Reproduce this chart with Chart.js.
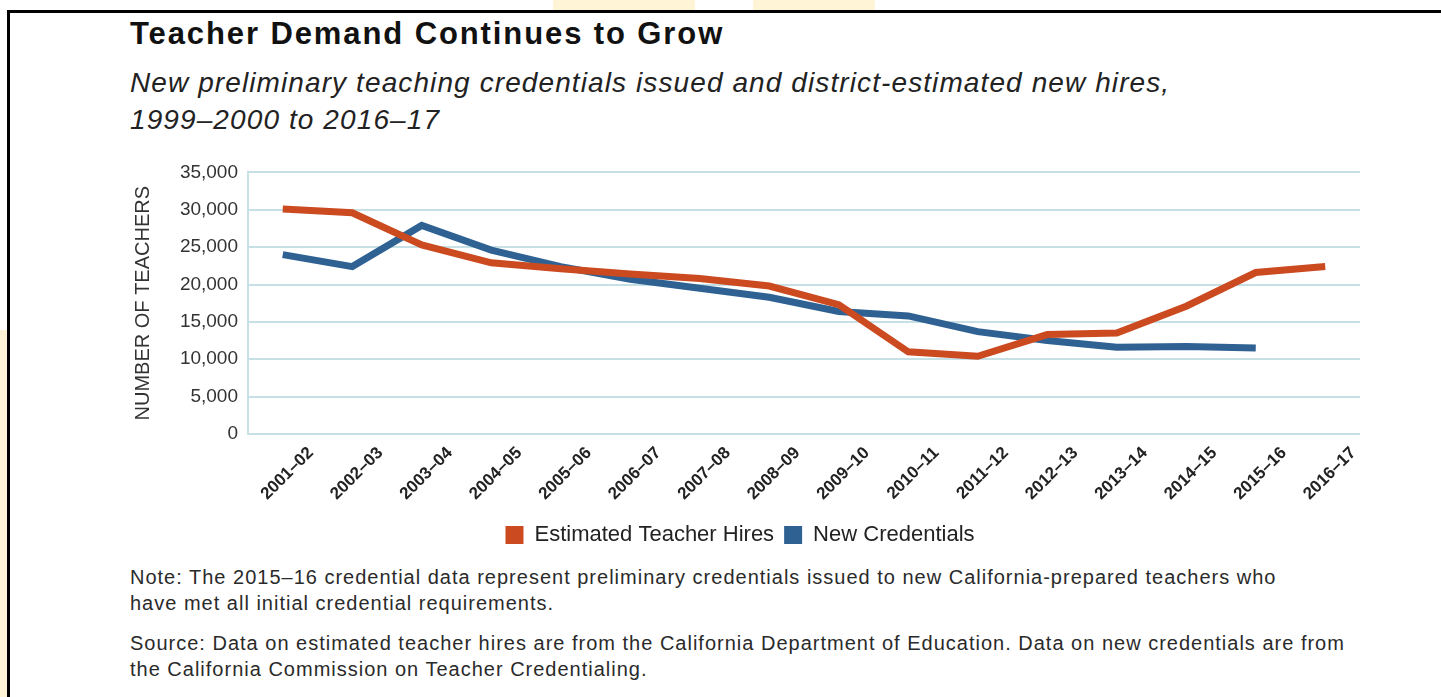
<!DOCTYPE html>
<html>
<head>
<meta charset="utf-8">
<script src="https://cdn.jsdelivr.net/npm/chart.js@4.4.0/dist/chart.umd.min.js"></script>
<style>
  html, body { margin: 0; padding: 0; background: #fff; }
  body { width: 1441px; height: 697px; position: relative; overflow: hidden; font-family: "Liberation Sans", Arial, sans-serif; }
  .frame { position: absolute; left: 7px; top: 10px; width: 1450px; height: 700px; border-left: 3px solid #000; border-top: 3px solid #000; box-sizing: border-box; }
  .tint { position: absolute; background: #fff5d6; }
  #title { position: absolute; left: 130px; top: 16px; font-size: 31px; letter-spacing: 1.9px; font-weight: bold; color: #111; }
  #subtitle { position: absolute; left: 130px; top: 64px; font-size: 28px; letter-spacing: 1.1px; font-style: italic; color: #222; line-height: 37px; }
  #chart-box { position: absolute; left: 120px; top: 151px; width: 1290px; height: 405px; }
  .note { position: absolute; left: 130px; font-size: 20px; letter-spacing: 1px; color: #2a2a2a; line-height: 26px; }
</style>
</head>
<body>
<div class="tint" style="left:553px;top:0;width:142px;height:10px"></div>
<div class="tint" style="left:753px;top:0;width:122px;height:10px"></div>
<div class="tint" style="left:0;top:330px;width:7px;height:367px"></div>
<div class="frame"></div>
<div id="title">Teacher Demand Continues to Grow</div>
<div id="subtitle">New preliminary teaching credentials issued and district-estimated new hires,<br>1999–2000 to 2016–17</div>
<div id="chart-box"><canvas id="chart"></canvas></div>
<div class="note" style="top:564px">Note: The 2015–16 credential data represent preliminary credentials issued to new California-prepared teachers who<br>have met all initial credential requirements.</div>
<div class="note" style="top:630px">Source: Data on estimated teacher hires are from the California Department of Education. Data on new credentials are from<br>the California Commission on Teacher Credentialing.</div>
<script>
// School years on the x axis
const years = ['2001–02', '2002–03', '2003–04', '2004–05', '2005–06', '2006–07', '2007–08', '2008–09',
               '2009–10', '2010–11', '2011–12', '2012–13', '2013–14', '2014–15', '2015–16', '2016–17'];
// Values
const hires = [30100, 29600, 25300, 22900, 22100, 21400, 20800, 19800,
               17300, 11000, 10400, 13300, 13500, 17100, 21600, 22400];
const credentials = [24000, 22400, 27900, 24600, 22400, 20700, 19500, 18300,
                     16400, 15800, 13700, 12500, 11600, 11700, 11500, null];
const yTicks = [0, 5000, 10000, 15000, 20000, 25000, 30000, 35000];

const gridColor = '#c6e0e6';
const fontFamily = '"Liberation Sans", Arial, sans-serif';

new Chart(document.getElementById('chart'), {
    type: 'line',
    data: {
        labels: years,
        datasets: [
            {
                label: 'Estimated Teacher Hires',
                data: hires,
                borderColor: '#cb4a20',
                backgroundColor: '#cb4a20',
                borderWidth: 7,
                pointRadius: 0,
                tension: 0
            },
            {
                label: 'New Credentials',
                data: credentials,
                borderColor: '#2f6293',
                backgroundColor: '#2f6293',
                borderWidth: 7,
                pointRadius: 0,
                tension: 0
            }
        ]
    },
    options: {
        responsive: true,
        maintainAspectRatio: false,
        animation: false,
        layout: { padding: { top: 13, right: 50 } },
        plugins: {
            tooltip: { enabled: false },
            legend: {
                position: 'bottom',
                labels: {
                    boxWidth: 18,
                    boxHeight: 18,
                    padding: 10,
                    color: '#222',
                    font: { family: fontFamily, size: 22 },
                    generateLabels: function(chart) {
                        const items = Chart.defaults.plugins.legend.labels.generateLabels(chart);
                        items.forEach(item => { item.lineWidth = 0; });
                        return items;
                    }
                }
            }
        },
        scales: {
            x: {
                offset: true,
                grid: { display: false },
                border: { display: false },
                ticks: {
                    color: '#222',
                    minRotation: 45,
                    maxRotation: 45,
                    padding: 1,
                    labelOffset: 28,
                    font: { family: fontFamily, size: 17, weight: 'bold' }
                },
                afterFit: function(scale) { scale.height = 80; }
            },
            y: {
                min: 0,
                max: 35000,
                afterBuildTicks: function(scale) { scale.ticks = yTicks.map(v => ({ value: v })); },
                grid: { color: gridColor, lineWidth: 2, drawTicks: false },
                border: { color: gridColor, width: 2 },
                ticks: {
                    color: '#333',
                    padding: 10,
                    font: { family: fontFamily, size: 19 },
                    callback: function(value) { return value.toLocaleString('en-US'); }
                },
                title: {
                    display: true,
                    text: 'NUMBER OF TEACHERS',
                    color: '#333',
                    padding: { top: 11, bottom: 0 },
                    font: { family: fontFamily, size: 20 }
                },
                afterFit: function(scale) { scale.width = 128; }
            }
        }
    }
});
</script>
</body>
</html>
